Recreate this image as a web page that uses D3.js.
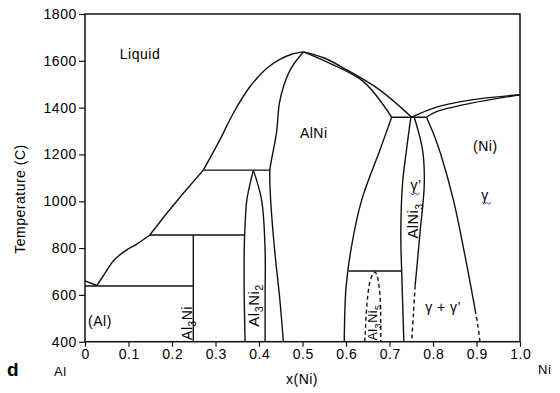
<!DOCTYPE html>
<html><head><meta charset="utf-8">
<script src="https://cdn.jsdelivr.net/npm/d3@7"></script>
<style>
html,body{margin:0;padding:0;background:#fff;}
svg text{font-family:"Liberation Sans",Arial,Helvetica,sans-serif;fill:#000;letter-spacing:0.5px;}
</style></head>
<body><svg id="c" width="560" height="393"></svg>
<script>
// ---- data (composition x(Ni), temperature °C) ----
const xTicks = [0,0.1,0.2,0.3,0.4,0.5,0.6,0.7,0.8,0.9,1.0];
const xTickLabels = ["0","0.1","0.2","0.3","0.4","0.5","0.6","0.7","0.8","0.9","1.0"];
const yTicks = [400,600,800,1000,1200,1400,1600,1800];
const yTickLabels = ["400","600","800","1000","1200","1400","1600","1800"];

const liqAl = [[0,660],[0.027,640]];
const liqA = [[0.027,640],[0.045,690],[0.065,745],[0.09,785],[0.12,818],[0.149,856]];
const liqB = [[0.149,856],[0.188,949],[0.226,1034],[0.272,1133]];
const liqC = [[0.272,1133],[0.31,1262],[0.341,1376],[0.379,1489],[0.418,1568],[0.448,1606],[0.475,1628],[0.502,1638]];
const alniLeft = [[0.502,1638],[0.476,1575],[0.458,1500],[0.447,1420],[0.440,1290],[0.430,1190],[0.425,1133],[0.427,1000],[0.436,790],[0.448,578],[0.456,400]];
const alniLiqR = [[0.502,1638],[0.55,1612],[0.602,1561],[0.678,1475],[0.751,1359]];
const alniSolR = [[0.502,1638],[0.563,1589],[0.64,1511],[0.705,1359]];
const alniRight = [[0.705,1359],[0.678,1219],[0.636,1005],[0.612,800],[0.600,630],[0.596,400]];
const niLiq = [[0.751,1359],[0.808,1402],[0.885,1432],[1.0,1455]];
const niSol = [[0.785,1359],[0.808,1383],[0.885,1418],[1.0,1455]];
const alni3Left = [[0.749,1359],[0.739,1219],[0.730,1077],[0.726,863],[0.728,700],[0.733,400]];
const alni3RightSolid = [[0.757,1359],[0.776,1219],[0.780,1077],[0.770,863],[0.759,640]];
const alni3RightDash = [[0.759,640],[0.755,520],[0.751,400]];
const gammaSolid = [[0.785,1359],[0.803,1280],[0.818,1200],[0.847,1005],[0.874,763],[0.897,535]];
const gammaDash = [[0.897,535],[0.903,470],[0.908,400]];
const al3ni2Left = [[0.368,400],[0.366,600],[0.366,792],[0.368,900],[0.372,1005],[0.387,1133]];
const al3ni2Right = [[0.414,400],[0.414,600],[0.414,792],[0.406,1005],[0.387,1133]];
const al3ni5Dome = [[0.643,400],[0.644,429],[0.648,557],[0.655,656],[0.663,692],[0.667,697],[0.671,685],[0.678,600],[0.680,429],[0.680,400]];
const hLines = [
  [[0,638],[0.249,638]],
  [[0.149,856],[0.368,856]],
  [[0.272,1133],[0.425,1133]],
  [[0.705,1359],[0.785,1359]],
  [[0.606,702],[0.727,702]],
  [[0.249,400],[0.249,856]]
];

// ---- chart ----
const svg = d3.select("#c");
const x = d3.scaleLinear().domain([0,1]).range([85,520]);
const y = d3.scaleLinear().domain([400,1800]).range([341.7,14]);

const smooth = d3.line().x(d=>x(d[0])).y(d=>y(d[1])).curve(d3.curveCatmullRom.alpha(0.5));
const straight = d3.line().x(d=>x(d[0])).y(d=>y(d[1]));

const g = svg.append("g");
g.append("rect").attr("x",x(0)).attr("y",y(1800)).attr("width",x(1)-x(0)).attr("height",y(400)-y(1800))
 .attr("fill","none").attr("stroke","#111").attr("stroke-width",1.5);

const xAxis = d3.axisBottom(x).tickValues(xTicks).tickSize(5).tickSizeOuter(0)
  .tickFormat((d,i)=>xTickLabels[i]);
const yAxis = d3.axisLeft(y).tickValues(yTicks).tickSize(6).tickSizeOuter(0)
  .tickFormat((d,i)=>yTickLabels[i]);
const gx = svg.append("g").attr("transform",`translate(0,${y(400)})`).call(xAxis);
const gy = svg.append("g").attr("transform",`translate(${x(0)},0)`).call(yAxis);
[gx,gy].forEach(a=>{a.select(".domain").remove();
  a.selectAll("line").attr("stroke","#111").attr("stroke-width",1.2);
  a.selectAll("text").attr("font-size",14).attr("fill","#000")
   .style("font-family","Liberation Sans, Arial, sans-serif").style("letter-spacing","0.6px");});
gx.selectAll("text").attr("dy","0.9em").attr("y",5).attr("dx",0.3);
gy.selectAll("text").attr("x",-8);

const lineStyle = s=>s.attr("fill","none").attr("stroke","#111").attr("stroke-width",1.4).attr("stroke-linejoin","round");
[liqAl,liqB].forEach(d=>g.append("path").attr("d",straight(d)).call(lineStyle));
[liqA,liqC,alniLeft,alniLiqR,alniSolR,alniRight,niLiq,niSol,alni3Left,alni3RightSolid,gammaSolid,al3ni2Left,al3ni2Right]
  .forEach(d=>g.append("path").attr("d",smooth(d)).call(lineStyle));
hLines.forEach(d=>g.append("path").attr("d",straight(d)).call(lineStyle));
[alni3RightDash,gammaDash,al3ni5Dome].forEach(d=>g.append("path").attr("d",smooth(d)).call(lineStyle).attr("stroke-dasharray","4,3"));

// ---- labels ----
function lab(xv,tv,opt={}){
  const el = svg.append("text").attr("x",x(xv)).attr("y",y(tv)).attr("font-size",opt.size||14)
    .attr("fill","#000").attr("text-anchor",opt.anchor||"start");
  if(opt.rot){el.attr("transform",`rotate(-90,${x(xv)},${y(tv)})`);}
  return el;
}
function sublab(parts,xv,tv,opt){
  const el = lab(xv,tv,opt);
  const fs = opt.size||14;
  parts.forEach(p=>{
    const ts = el.append("tspan").text(p[0]);
    if(p[1]){ts.attr("font-size",fs*0.72).attr("dy",fs*0.3);} else {ts.attr("dy",p[2]?-fs*0.3:0);}
  });
  return el;
}
lab(0.080,1608).text("Liquid");
lab(0.494,1270).text("AlNi");
lab(0.892,1213).text("(Ni)");
lab(0.748,1046).text("γ’");
lab(0.911,1006).text("γ");
lab(0.782,527).text("γ + γ’");
lab(0.007,465).text("(Al)");
sublab([["Al"],["3",true],["Ni",false,true]],0.245,480,{rot:true,anchor:"middle",size:14});
sublab([["Al"],["3",true],["Ni",false,true],["2",true]],0.399,555,{rot:true,anchor:"middle",size:15});
sublab([["AlNi",false],["3",true]],0.766,916,{rot:true,anchor:"middle",size:14.5});
sublab([["Al"],["3",true],["Ni",false,true],["5",true]],0.671,482,{rot:true,anchor:"middle",size:12.5});

const squig = (xv,tv)=>{
  const x0=x(xv), y0=y(tv)+3;
  const pts=d3.range(0,5).map(i=>[x0+i*2.2, y0+(i%2?1.2:-0.3)]);
  svg.append("path").attr("d",d3.line()(pts)).attr("fill","none").attr("stroke","#2a3ad8").attr("stroke-width",1);
};
squig(0.749,1046); squig(0.913,1006);

svg.append("text").attr("transform","translate(25,199) rotate(-90)").attr("text-anchor","middle")
  .attr("font-size",14).attr("fill","#000").text("Temperature (C)");
svg.append("text").attr("x",7).attr("y",376).attr("font-size",19).attr("font-weight","bold").attr("fill","#000").text("d");
svg.append("text").attr("x",54).attr("y",376).attr("font-size",13).attr("fill","#000").text("Al");
svg.append("text").attr("x",302).attr("y",384).attr("font-size",14).attr("fill","#000").attr("text-anchor","middle").text("x(Ni)");
svg.append("text").attr("x",538).attr("y",374).attr("font-size",13).attr("fill","#000").text("Ni");
</script></body></html>
